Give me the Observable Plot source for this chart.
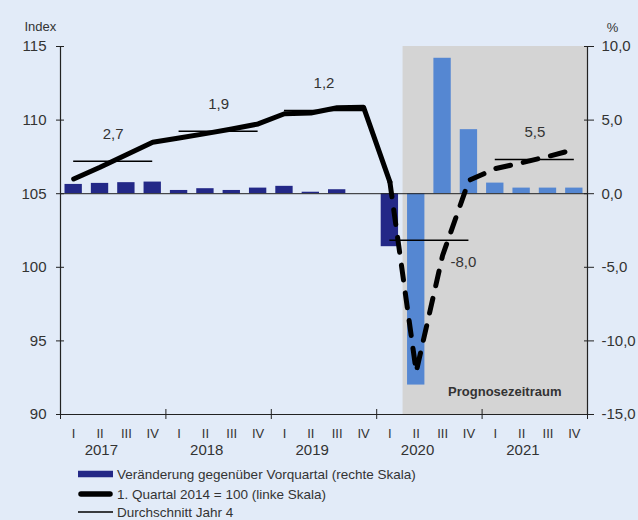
<!DOCTYPE html>
<html>
<head>
<meta charset="utf-8">
<script src="https://cdn.jsdelivr.net/npm/d3@7"></script>
<script src="https://cdn.jsdelivr.net/npm/@observablehq/plot@0.6"></script>
<style>
  html, body { margin: 0; padding: 0; background: #e2ebf8; }
  #wrap { position: relative; width: 638px; height: 520px; overflow: hidden; font-family: "Liberation Sans", Arial, sans-serif; color: #333; }
  .lg { position: absolute; left: 78px; height: 20px; display: flex; align-items: center; font-size: 13.5px; white-space: nowrap; }
  .lg svg { margin-right: 4px; }
</style>
</head>
<body>
<div id="wrap">
  <div id="chart"></div>
  <div class="lg" style="top:464px"><svg width="35" height="8"><rect x="0" y="0.75" width="35" height="6.5" fill="#232887"></rect></svg>Veränderung gegenüber Vorquartal (rechte Skala)</div>
  <div class="lg" style="top:484px"><svg width="35" height="8"><line x1="3" y1="4" x2="32" y2="4" stroke="#000" stroke-width="5.5" stroke-linecap="round"></line></svg>1. Quartal 2014 = 100 (linke Skala)</div>
  <div class="lg" style="top:502px"><svg width="35" height="8"><line x1="0" y1="4" x2="35" y2="4" stroke="#000" stroke-width="1.5"></line></svg>Durchschnitt Jahr 4</div>
</div>
<script>
// ---- data ----
const years = [2017, 2018, 2019, 2020, 2021];
const quarterNames = ["I", "II", "III", "IV"];
// Veränderung gegenüber Vorquartal in % (rechte Skala)
const changePct = [0.63, 0.70, 0.75, 0.79, 0.22, 0.34, 0.22, 0.38, 0.50, 0.10, 0.27, 0.0,
                   -3.6, -13.0, 9.2, 4.35, 0.72, 0.38, 0.38, 0.38];
// 1. Quartal 2014 = 100 (linke Skala)
const indexLevel = [106.0, 106.8, 107.65, 108.5, 108.78, 109.08, 109.4, 109.74, 110.43, 110.48, 110.84, 110.88,
                    105.8, 92.9, 100.8, 105.9, 106.7, 107.1, 107.53, 108.0];
// Durchschnitt Jahr (% label) and its level on the index scale
const avgChange = [2.7, 1.9, 1.2, -8.0, 5.5];
const avgIndexLevel = [107.2, 109.25, 110.66, 101.83, 107.33];
const forecastFrom = { year: 2020, quarter: "II" };
const leftTicks = [90, 95, 100, 105, 110, 115];
const rightZero = 105; // index level that corresponds to 0 % on the right scale

// ---- derived tables ----
const rows = [];
years.forEach((y, yi) => quarterNames.forEach((q, qi) => {
  const i = yi * 4 + qi;
  rows.push({ i, year: y, q, pct: changePct[i], level: indexLevel[i] });
}));
const fIdx = rows.findIndex(d => d.year === forecastFrom.year && d.q === forecastFrom.quarter);
rows.forEach(d => d.forecast = d.i >= fIdx);
const n = rows.length;
const avgRows = years.map((y, yi) => ({ yi, year: y, change: avgChange[yi], level: avgIndexLevel[yi] }));
const yDomain = [d3.min(leftTicks), d3.max(leftTicks)];
const fmtDE = v => v.toFixed(1).replace(".", ",");
const tickColor = "#222";

const chart = Plot.plot({
  width: 638,
  height: 462,
  marginTop: 46,
  marginBottom: 48,
  marginLeft: 60,
  marginRight: 51,
  x: { type: "linear", domain: [0, n], axis: null },
  y: { domain: yDomain, axis: null },
  style: { background: "transparent", fontFamily: "Liberation Sans, Arial, sans-serif", fontSize: "14px", color: "#333", overflow: "visible" },
  marks: [
    // forecast shading
    Plot.rect([{ x1: fIdx, x2: n }], { x1: "x1", x2: "x2", y1: yDomain[0], y2: yDomain[1], fill: "#d4d4d4" }),
    // bars (right scale: 0 % aligned with rightZero)
    Plot.rect(rows, {
      x1: d => d.i, x2: d => d.i + 1, insetLeft: 4.5, insetRight: 4.5,
      y1: rightZero, y2: d => rightZero + d.pct,
      fill: d => d.forecast ? "#5587d2" : "#232887"
    }),
    // baseline 0 %
    Plot.ruleY([rightZero], { stroke: "#222", strokeWidth: 1 }),
    // frame axes lines
    Plot.ruleX([0, n], { y1: yDomain[0], y2: yDomain[1], stroke: tickColor, strokeWidth: 1.2 }),
    Plot.ruleY([yDomain[0]], { stroke: tickColor, strokeWidth: 1.2 }),
    // yearly averages
    Plot.ruleY(avgRows, { y: "level", x1: d => d.yi * 4 + 0.5, x2: d => d.yi * 4 + 3.5, stroke: "#000", strokeWidth: 1.5 }),
    // index line: actual (solid) and forecast (dashed)
    Plot.line(rows.slice(0, fIdx), { x: d => d.i + 0.5, y: "level", stroke: "#000", strokeWidth: 5, strokeLinejoin: "round", strokeLinecap: "round" }),
    Plot.line(rows.slice(fIdx - 1), { x: d => d.i + 0.5, y: "level", stroke: "#000", strokeWidth: 5, strokeLinejoin: "round", strokeLinecap: "round", strokeDasharray: "15,13" }),
    // average labels
    Plot.text(avgRows.filter(d => d.change >= 0), { x: d => d.yi * 4 + 2, y: "level", dy: -27, text: d => fmtDE(d.change), fontSize: 15, fill: "#333" }),
    Plot.text(avgRows.filter(d => d.change < 0), { x: d => d.yi * 4 + 2, y: "level", dx: 34, dy: 22, text: d => fmtDE(d.change), fontSize: 15, fill: "#333" }),
    // forecast label
    Plot.text(["Prognosezeitraum"], { x: n, y: yDomain[0], dx: -26, dy: -23, textAnchor: "end", fontSize: 13, fontWeight: "bold", fill: "#333" }),
    // left axis
    Plot.axisY({ anchor: "left", label: null, ticks: leftTicks, tickSize: 8, dx: 4, tickFormat: () => "", stroke: tickColor }),
    Plot.axisY({ anchor: "left", label: null, ticks: leftTicks, tickSize: 0, tickPadding: 14, tickFormat: d => String(d), fontSize: 15, fill: "#333" }),
    // right axis (% = index - rightZero)
    Plot.axisY({ anchor: "right", label: null, ticks: leftTicks, tickSize: 10, dx: -4, tickFormat: () => "", stroke: tickColor }),
    Plot.axisY({ anchor: "right", label: null, ticks: leftTicks, tickSize: 0, tickPadding: 14, tickFormat: d => fmtDE(d - rightZero), fontSize: 15, fill: "#333" }),
    // bottom axis: year separators, quarter and year labels
    Plot.axisX({ label: null, ticks: d3.range(0, n + 1, 4), tickSize: 10, dy: -5, tickFormat: () => "", stroke: tickColor }),
    Plot.axisX({ label: null, ticks: rows.map(d => d.i + 0.5), tickSize: 0, tickPadding: 14, tickFormat: (d, k) => rows[k].q, fontSize: 13, fill: "#333" }),
    Plot.axisX({ label: null, ticks: years.map((y, yi) => yi * 4 + 1.55), tickSize: 0, tickPadding: 30, tickFormat: (d, k) => String(years[k]), fontSize: 15, fill: "#333" }),
    // axis titles
    Plot.text(["Index"], { frameAnchor: "top-left", dx: -36, dy: -25, textAnchor: "start", fontSize: 13, fill: "#333" }),
    Plot.text(["%"], { frameAnchor: "top-right", dx: 25, dy: -24, textAnchor: "middle", fontSize: 13, fill: "#333" })
  ]
});
document.getElementById("chart").appendChild(chart);
</script>
</body>
</html>
